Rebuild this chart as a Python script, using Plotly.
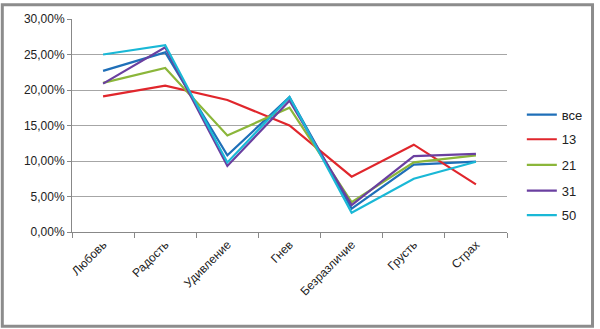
import plotly.graph_objects as go

categories = ["Любовь", "Радость", "Удивление", "Гнев", "Безразличие", "Грусть", "Страх"]
series_names = ["все", "13", "21", "31", "50"]
v_all = [22.7, 25.3, 10.8, 19.0, 3.3, 9.5, 9.9]
v_13 = [19.1, 20.6, 18.6, 15.0, 7.8, 12.3, 6.7]
v_21 = [21.0, 23.1, 13.6, 17.5, 4.2, 9.8, 10.8]
v_31 = [20.9, 26.0, 9.3, 18.5, 3.8, 10.7, 11.0]
v_50 = [25.0, 26.3, 9.8, 19.0, 2.7, 7.5, 9.9]
values = [v_all, v_13, v_21, v_31, v_50]
colors = ["#1f6fb8", "#e0262c", "#8bb63a", "#6a3fa0", "#1ab8d6"]

W, H = 600, 329
L, R, T, B = 72, 88, 16, 97
pw, ph = W - L - R, H - T - B

fig = go.Figure()
legend_ys = [113, 138, 164, 190, 215]
for i, (name, vals, c) in enumerate(zip(series_names, values, colors)):
    lg = "legend" if i == 0 else f"legend{i+1}"
    fig.add_trace(go.Scatter(x=categories, y=[v / 100 for v in vals], name=name,
                             mode="lines", line=dict(color=c, width=2.2), legend=lg))
    fig.update_layout({lg: dict(x=(527 - L) / pw, y=(232 - legend_ys[i]) / ph,
                                xanchor="left", yanchor="middle",
                                font=dict(size=13), itemwidth=30,
                                bgcolor="rgba(0,0,0,0)")})

fig.update_layout(
    width=W, height=H, margin=dict(l=L, r=R, t=T, b=B),
    paper_bgcolor="white", plot_bgcolor="white",
    font=dict(family="Liberation Sans, Arial", size=12, color="#222"),
    showlegend=True, separators=", ",
)
fig.update_xaxes(type="category", tickson="boundaries", ticks="outside", ticklen=5,
                 tickcolor="#888", showline=True, linecolor="#888", showgrid=False,
                 tickangle=-45, range=[-0.5, 6.5], tickfont=dict(size=12))
fig.update_yaxes(range=[0, 0.30], dtick=0.05, tickformat=".2%",
                 showgrid=True, gridcolor="#a6a6a6", gridwidth=1, showline=True,
                 linecolor="#888", ticks="outside", ticklen=4, tickcolor="#888",
                 tickfont=dict(size=12), zeroline=False)

fig.add_shape(type="rect", xref="paper", yref="paper",
              x0=(-L + 1.5) / pw, x1=(pw + R - 1.5) / pw,
              y0=(-B + 1.5) / ph, y1=(ph + T - 1.5) / ph,
              line=dict(color="#8c8c8c", width=3), layer="below")

fig.write_html("out.html")
